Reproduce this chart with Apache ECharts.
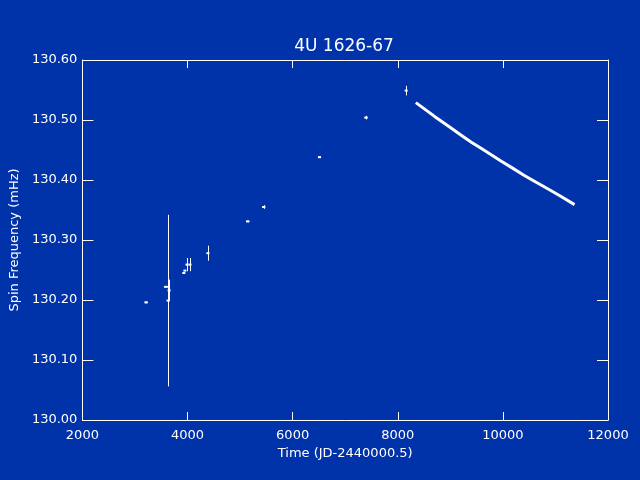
<!DOCTYPE html>
<html>
<head>
<meta charset="utf-8">
<script src="https://cdn.jsdelivr.net/npm/echarts@6/dist/echarts.min.js"></script>
<style>
html,body{margin:0;padding:0;background:#0033aa;}
#chart{width:640px;height:480px;}
</style>
</head>
<body>
<div id="chart"></div>
<script>
// Discrete measurements: time (JD-2440000.5), spin frequency (mHz), errors
var pointT = [3213, 3590, 3630, 3650, 3930, 3950, 3990, 4047, 4388, 5146, 5450, 6511, 7396, 8160];
var pointF = [130.196, 130.222, 130.199, 130.216, 130.245, 130.249, 130.259, 130.259, 130.278, 130.331, 130.355, 130.438, 130.504, 130.549];
var errT   = [30, 40, 0, 0, 0, 0, 0, 0, 0, 30, 30, 30, 30, 0];
var errF   = [0, 0, 0.143, 0.018, 0, 0, 0.011, 0.011, 0.0125, 0, 0.003, 0, 0.003, 0.008];

// Continuous monitoring track
var curveT = [8344, 8500, 8700, 9007, 9200, 9400, 9600, 9800, 9955, 10200, 10400, 10600, 10903, 11100, 11363];
var curveF = [130.529, 130.519, 130.506, 130.487, 130.475, 130.463, 130.452, 130.441, 130.432, 130.419, 130.408, 130.398, 130.383, 130.373, 130.359];

var xTicks = [2000, 4000, 6000, 8000, 10000, 12000];
var yTicks = ['130.00', '130.10', '130.20', '130.30', '130.40', '130.50', '130.60'];

var FONT = 'DejaVu Sans';
var WHITE = '#ffffff';

var pts = pointT.map(function (t, i) { return [t, pointF[i], errT[i], errF[i]]; });
var curve = curveT.map(function (t, i) { return [t, curveF[i]]; });

var chart = echarts.init(document.getElementById('chart'), null, {renderer: 'canvas'});

function xAxisCfg(pos, showLabel) {
  return {
    type: 'value', position: pos,
    min: xTicks[0], max: xTicks[xTicks.length - 1], interval: 2000,
    axisLine: {show: true, onZero: false, lineStyle: {color: WHITE, width: 1}},
    axisTick: {show: true, inside: true, length: 8, lineStyle: {color: WHITE, width: 1}},
    axisLabel: {show: showLabel, color: WHITE, fontFamily: FONT, fontSize: 13, margin: 9,
      formatter: function (v) { return String(Math.round(v)); }},
    splitLine: {show: false},
    name: showLabel ? 'Time (JD-2440000.5)' : '',
    nameLocation: 'middle', nameGap: 21,
    nameTextStyle: {color: WHITE, fontFamily: FONT, fontSize: 13}
  };
}
function yAxisCfg(pos, showLabel) {
  return {
    type: 'value', position: pos,
    min: 130.0, max: 130.6, interval: 0.1,
    axisLine: {show: true, onZero: false, lineStyle: {color: WHITE, width: 1}},
    axisTick: {show: true, inside: true, length: 11, lineStyle: {color: WHITE, width: 1}},
    axisLabel: {show: showLabel, color: WHITE, fontFamily: FONT, fontSize: 13, margin: 5,
      formatter: function (v) { var idx = Math.round((v - 130) * 10); return yTicks[idx] !== undefined ? yTicks[idx] : v.toFixed(2); }},
    splitLine: {show: false},
    name: showLabel ? 'Spin Frequency (mHz)' : '',
    nameLocation: 'middle', nameGap: 58, nameRotate: 90,
    nameTextStyle: {color: WHITE, fontFamily: FONT, fontSize: 13}
  };
}

chart.setOption({
  backgroundColor: '#0033aa',
  animation: false,
  title: {
    text: '4U 1626-67', left: 344, top: 38, padding: 0, textAlign: 'center',
    textStyle: {color: WHITE, fontFamily: FONT, fontSize: 17, fontWeight: 'normal'}
  },
  grid: {left: 80, right: 32, top: 60, bottom: 60, containLabel: false},
  xAxis: [xAxisCfg('bottom', true), xAxisCfg('top', false)],
  yAxis: [yAxisCfg('left', true), yAxisCfg('right', false)],
  series: [
    {
      type: 'custom',
      xAxisIndex: 0, yAxisIndex: 0,
      data: pts,
      clip: true,
      renderItem: function (params, api) {
        var t = api.value(0), f = api.value(1), et = api.value(2), ef = api.value(3);
        var c = api.coord([t, f]);
        var children = [];
        children.push({type: 'rect', shape: {x: c[0] - 1.5, y: c[1] - 1, width: 3, height: 2},
          style: {fill: WHITE}});
        if (et > 0) {
          var a = api.coord([t - et, f]), b = api.coord([t + et, f]);
          children.push({type: 'line', shape: {x1: a[0], y1: c[1], x2: b[0], y2: c[1]},
            style: {stroke: WHITE, lineWidth: 1.5}});
        }
        if (ef > 0) {
          var lo = api.coord([t, f - ef]), hi = api.coord([t, f + ef]);
          children.push({type: 'line', shape: {x1: Math.round(c[0]) + 0.5, y1: lo[1], x2: Math.round(c[0]) + 0.5, y2: hi[1]},
            style: {stroke: WHITE, lineWidth: 1}});
        }
        return {type: 'group', children: children};
      }
    },
    {
      type: 'line',
      xAxisIndex: 0, yAxisIndex: 0,
      data: curve,
      smooth: false,
      showSymbol: false,
      lineStyle: {color: WHITE, width: 3, cap: 'butt', join: 'round'}
    }
  ]
});
</script>
</body>
</html>
